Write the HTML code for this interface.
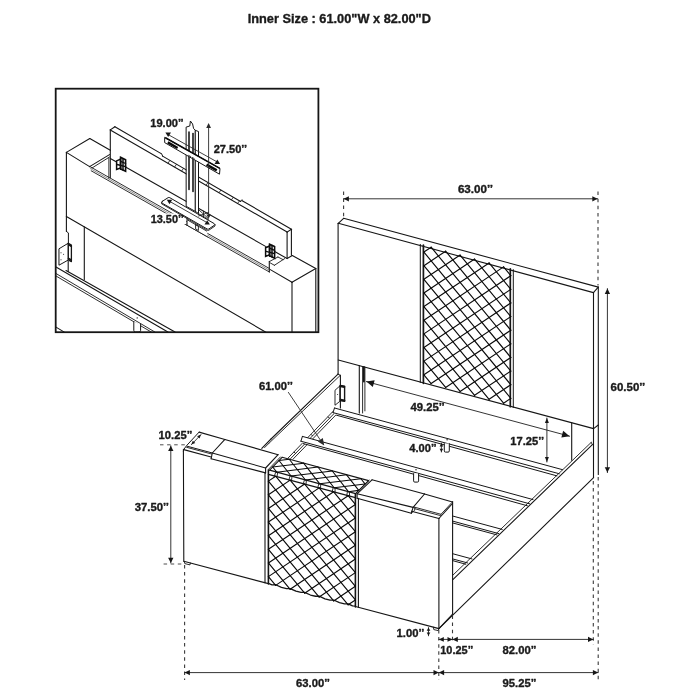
<!DOCTYPE html>
<html><head><meta charset="utf-8"><title>Bed dimensions</title>
<style>
html,body{margin:0;padding:0;background:#fff;}
body{width:700px;height:700px;overflow:hidden;}
svg{display:block;transform:translateZ(0);will-change:transform;}
svg text{font-family:"Liberation Sans",Arial,Helvetica,sans-serif;font-weight:bold;fill:#1a1a1a;stroke:#1a1a1a;stroke-width:0.35px;stroke-linejoin:round;}
</style></head><body>
<svg width="700" height="700" viewBox="0 0 700 700" stroke-linecap="round">
<defs><clipPath id="insetclip"><rect x="55.7" y="88.7" width="262.7" height="243.5"/></clipPath></defs>
<rect width="700" height="700" fill="#fff"/>
<text x="247.70" y="23.40" font-size="13" text-anchor="start" textLength="183.2" lengthAdjust="spacingAndGlyphs">Inner Size : 61.00&quot;W x 82.00&quot;D</text>
<line x1="343.60" y1="218.30" x2="598.30" y2="287.10" stroke="#161616" stroke-width="1.1" />
<line x1="338.30" y1="223.30" x2="593.40" y2="292.60" stroke="#161616" stroke-width="1.1" />
<line x1="338.30" y1="223.30" x2="343.60" y2="218.30" stroke="#161616" stroke-width="1.1" />
<line x1="593.40" y1="292.60" x2="598.30" y2="287.10" stroke="#161616" stroke-width="1.1" />
<line x1="338.10" y1="223.30" x2="338.10" y2="374.20" stroke="#161616" stroke-width="1.1" />
<line x1="340.40" y1="375.20" x2="340.40" y2="408.00" stroke="#161616" stroke-width="1.1" />
<line x1="593.50" y1="292.60" x2="593.50" y2="477.40" stroke="#161616" stroke-width="1.1" />
<line x1="598.30" y1="287.10" x2="598.30" y2="474.40" stroke="#161616" stroke-width="1.1" />
<line x1="338.30" y1="360.00" x2="593.60" y2="428.60" stroke="#161616" stroke-width="1.1" />
<line x1="593.60" y1="428.60" x2="598.30" y2="425.00" stroke="#161616" stroke-width="1.1" />
<line x1="420.30" y1="244.38" x2="420.30" y2="382.53" stroke="#161616" stroke-width="1.0" />
<line x1="423.40" y1="245.22" x2="423.40" y2="383.37" stroke="#161616" stroke-width="1.7" />
<line x1="510.30" y1="268.83" x2="510.30" y2="406.72" stroke="#161616" stroke-width="1.7" />
<line x1="513.30" y1="269.64" x2="513.30" y2="407.52" stroke="#161616" stroke-width="1.0" />
<line x1="423.90" y1="374.76" x2="431.14" y2="383.54" stroke="#0a0a0a" stroke-width="1.15" />
<line x1="423.90" y1="361.12" x2="445.62" y2="387.47" stroke="#0a0a0a" stroke-width="1.15" />
<line x1="423.90" y1="347.49" x2="460.11" y2="391.41" stroke="#0a0a0a" stroke-width="1.15" />
<line x1="423.90" y1="333.86" x2="474.59" y2="395.34" stroke="#0a0a0a" stroke-width="1.15" />
<line x1="423.90" y1="320.23" x2="489.07" y2="399.28" stroke="#0a0a0a" stroke-width="1.15" />
<line x1="423.90" y1="306.60" x2="503.56" y2="403.21" stroke="#0a0a0a" stroke-width="1.15" />
<line x1="423.90" y1="292.97" x2="510.80" y2="398.36" stroke="#0a0a0a" stroke-width="1.15" />
<line x1="423.90" y1="279.33" x2="510.80" y2="384.73" stroke="#0a0a0a" stroke-width="1.15" />
<line x1="423.90" y1="265.70" x2="510.80" y2="371.10" stroke="#0a0a0a" stroke-width="1.15" />
<line x1="423.90" y1="252.07" x2="510.80" y2="357.47" stroke="#0a0a0a" stroke-width="1.15" />
<line x1="431.14" y1="247.22" x2="510.80" y2="343.84" stroke="#0a0a0a" stroke-width="1.15" />
<line x1="445.62" y1="251.16" x2="510.80" y2="330.20" stroke="#0a0a0a" stroke-width="1.15" />
<line x1="460.11" y1="255.09" x2="510.80" y2="316.57" stroke="#0a0a0a" stroke-width="1.15" />
<line x1="474.59" y1="259.02" x2="510.80" y2="302.94" stroke="#0a0a0a" stroke-width="1.15" />
<line x1="489.07" y1="262.96" x2="510.80" y2="289.31" stroke="#0a0a0a" stroke-width="1.15" />
<line x1="503.56" y1="266.89" x2="510.80" y2="275.68" stroke="#0a0a0a" stroke-width="1.15" />
<line x1="423.90" y1="252.07" x2="431.14" y2="247.22" stroke="#0a0a0a" stroke-width="1.15" />
<line x1="423.90" y1="265.70" x2="445.62" y2="251.16" stroke="#0a0a0a" stroke-width="1.15" />
<line x1="423.90" y1="279.33" x2="460.11" y2="255.09" stroke="#0a0a0a" stroke-width="1.15" />
<line x1="423.90" y1="292.97" x2="474.59" y2="259.02" stroke="#0a0a0a" stroke-width="1.15" />
<line x1="423.90" y1="306.60" x2="489.07" y2="262.96" stroke="#0a0a0a" stroke-width="1.15" />
<line x1="423.90" y1="320.23" x2="503.56" y2="266.89" stroke="#0a0a0a" stroke-width="1.15" />
<line x1="423.90" y1="333.86" x2="510.80" y2="275.68" stroke="#0a0a0a" stroke-width="1.15" />
<line x1="423.90" y1="347.49" x2="510.80" y2="289.31" stroke="#0a0a0a" stroke-width="1.15" />
<line x1="423.90" y1="361.12" x2="510.80" y2="302.94" stroke="#0a0a0a" stroke-width="1.15" />
<line x1="423.90" y1="374.76" x2="510.80" y2="316.57" stroke="#0a0a0a" stroke-width="1.15" />
<line x1="431.14" y1="383.54" x2="510.80" y2="330.20" stroke="#0a0a0a" stroke-width="1.15" />
<line x1="445.62" y1="387.47" x2="510.80" y2="343.84" stroke="#0a0a0a" stroke-width="1.15" />
<line x1="460.11" y1="391.41" x2="510.80" y2="357.47" stroke="#0a0a0a" stroke-width="1.15" />
<line x1="474.59" y1="395.34" x2="510.80" y2="371.10" stroke="#0a0a0a" stroke-width="1.15" />
<line x1="489.07" y1="399.28" x2="510.80" y2="384.73" stroke="#0a0a0a" stroke-width="1.15" />
<line x1="503.56" y1="403.21" x2="510.80" y2="398.36" stroke="#0a0a0a" stroke-width="1.15" />
<line x1="359.30" y1="365.64" x2="359.30" y2="413.10" stroke="#161616" stroke-width="1.1" />
<line x1="362.60" y1="366.53" x2="362.60" y2="413.00" stroke="#161616" stroke-width="0.9" />
<line x1="364.90" y1="367.15" x2="364.90" y2="410.90" stroke="#161616" stroke-width="0.9" />
<line x1="363.90" y1="366.88" x2="363.90" y2="381.50" stroke="#161616" stroke-width="1.8" />
<line x1="571.70" y1="422.72" x2="571.70" y2="460.20" stroke="#161616" stroke-width="1.1" />
<line x1="333.00" y1="411.40" x2="288.20" y2="457.90" stroke="#161616" stroke-width="0.9" />
<line x1="335.20" y1="412.40" x2="290.60" y2="458.60" stroke="#161616" stroke-width="0.9" />
<line x1="337.40" y1="413.40" x2="293.00" y2="459.20" stroke="#161616" stroke-width="0.9" />
<line x1="328.24" y1="416.96" x2="329.34" y2="418.06" stroke="#161616" stroke-width="1.0" />
<line x1="311.25" y1="434.55" x2="312.35" y2="435.65" stroke="#161616" stroke-width="1.0" />
<line x1="294.26" y1="452.14" x2="295.36" y2="453.24" stroke="#161616" stroke-width="1.0" />
<polygon points="334.50,408.00 562.50,469.67 556.90,475.87 336.50,415.20 333.00,412.60" fill="#fff" stroke="none" stroke-width="0" stroke-linejoin="round" />
<line x1="334.50" y1="408.00" x2="562.50" y2="469.67" stroke="#161616" stroke-width="1.0" />
<line x1="333.00" y1="412.60" x2="559.30" y2="473.77" stroke="#161616" stroke-width="1.0" />
<line x1="336.50" y1="415.20" x2="556.90" y2="475.87" stroke="#161616" stroke-width="1.0" />
<line x1="334.50" y1="408.00" x2="333.00" y2="412.60" stroke="#161616" stroke-width="1.0" />
<polygon points="302.40,436.40 533.00,499.58 527.40,505.78 303.40,443.60 300.90,441.20" fill="#fff" stroke="none" stroke-width="0" stroke-linejoin="round" />
<line x1="302.40" y1="436.40" x2="533.00" y2="499.58" stroke="#161616" stroke-width="1.0" />
<line x1="300.90" y1="441.20" x2="529.60" y2="503.78" stroke="#161616" stroke-width="1.0" />
<line x1="303.40" y1="443.60" x2="527.40" y2="505.78" stroke="#161616" stroke-width="1.0" />
<line x1="302.40" y1="436.40" x2="300.90" y2="441.20" stroke="#161616" stroke-width="1.0" />
<line x1="452.60" y1="516.00" x2="502.20" y2="529.42" stroke="#161616" stroke-width="1.0" />
<line x1="452.60" y1="521.10" x2="498.80" y2="533.62" stroke="#161616" stroke-width="1.0" />
<line x1="452.60" y1="522.90" x2="497.00" y2="534.92" stroke="#161616" stroke-width="1.0" />
<line x1="452.60" y1="553.70" x2="472.00" y2="558.95" stroke="#161616" stroke-width="1.0" />
<line x1="452.60" y1="558.90" x2="467.60" y2="562.95" stroke="#161616" stroke-width="1.0" />
<line x1="452.60" y1="560.60" x2="465.80" y2="564.25" stroke="#161616" stroke-width="1.0" />
<path d="M444.30,443.60 v7.30 q0,1.2 1.2,1.2 h2.60 q1.2,0 1.2,-1.2 v-7.30" fill="#fff" stroke="#161616" stroke-width="1"/>
<path d="M413.60,473.60 v7.30 q0,1.2 1.2,1.2 h2.60 q1.2,0 1.2,-1.2 v-7.30" fill="#fff" stroke="#161616" stroke-width="1"/>
<circle cx="447.1" cy="439.7" r="0.7" fill="#161616"/>
<circle cx="416.0" cy="469.7" r="0.7" fill="#161616"/>
<line x1="592.40" y1="444.60" x2="452.60" y2="579.80" stroke="#161616" stroke-width="1.1" />
<line x1="591.20" y1="442.40" x2="452.60" y2="575.40" stroke="#161616" stroke-width="0.9" />
<line x1="591.20" y1="442.40" x2="592.40" y2="444.60" stroke="#161616" stroke-width="0.9" />
<line x1="593.60" y1="477.60" x2="438.90" y2="628.60" stroke="#161616" stroke-width="1.1" />
<line x1="338.00" y1="374.20" x2="271.00" y2="439.00" stroke="#161616" stroke-width="1.1" />
<line x1="339.80" y1="375.80" x2="269.00" y2="443.20" stroke="#161616" stroke-width="0.9" />
<line x1="338.00" y1="374.20" x2="340.40" y2="375.20" stroke="#161616" stroke-width="0.9" />
<polygon points="335.30,390.00 340.00,385.80 340.00,401.20 335.30,405.00" fill="#fff" stroke="#161616" stroke-width="0.9" stroke-linejoin="round" />
<polygon points="340.20,385.40 344.60,386.20 344.60,401.40 340.20,400.60" fill="#fff" stroke="#161616" stroke-width="1.4" stroke-linejoin="round" />
<line x1="340.60" y1="386.20" x2="344.40" y2="386.90" stroke="#161616" stroke-width="2.0" />
<line x1="340.60" y1="399.80" x2="344.40" y2="400.60" stroke="#161616" stroke-width="2.0" />
<circle cx="337.6" cy="394.6" r="0.5" fill="#161616"/>
<line x1="183.40" y1="449.40" x2="183.80" y2="561.30" stroke="#161616" stroke-width="1.1" />
<line x1="183.80" y1="561.30" x2="268.40" y2="583.62" stroke="#161616" stroke-width="1.1" />
<line x1="355.40" y1="606.57" x2="438.90" y2="628.60" stroke="#161616" stroke-width="1.1" />
<polyline points="268.40,583.32 272.02,584.78 275.65,584.73 281.45,587.36 286.52,588.60 290.15,588.56 295.95,591.19 301.02,592.43 304.65,592.38 310.45,595.01 315.52,596.25 319.15,596.21 324.95,598.84 330.02,600.08 333.65,600.03 339.45,602.66 344.52,603.90 348.15,603.86 352.50,605.91 355.40,606.17" fill="none" stroke="#161616" stroke-width="1.3" stroke-linejoin="round" />
<line x1="438.90" y1="518.30" x2="438.90" y2="628.60" stroke="#161616" stroke-width="1.1" />
<line x1="452.60" y1="501.60" x2="452.60" y2="614.20" stroke="#161616" stroke-width="1.1" />
<line x1="438.90" y1="628.60" x2="452.60" y2="614.20" stroke="#161616" stroke-width="1.1" />
<polyline points="184.40,561.60 184.80,563.60 190.00,564.90 190.40,563.00" fill="none" stroke="#161616" stroke-width="0.9" stroke-linejoin="round" />
<polyline points="433.40,627.20 433.80,629.60 438.20,630.60 438.90,628.60" fill="none" stroke="#161616" stroke-width="0.9" stroke-linejoin="round" />
<polyline points="183.40,451.00 183.80,449.40 186.60,445.60 199.10,432.10" fill="none" stroke="#161616" stroke-width="1.0" stroke-linejoin="round" />
<line x1="199.10" y1="432.10" x2="224.90" y2="439.48" stroke="#161616" stroke-width="1.1" />
<line x1="183.80" y1="449.60" x2="211.10" y2="457.00" stroke="#161616" stroke-width="1.1" />
<line x1="187.10" y1="446.20" x2="212.00" y2="452.90" stroke="#161616" stroke-width="1.0" />
<line x1="186.60" y1="447.30" x2="211.60" y2="454.00" stroke="#161616" stroke-width="0.9" />
<polyline points="224.90,439.48 212.30,453.00 211.10,458.80" fill="none" stroke="#161616" stroke-width="1.1" stroke-linejoin="round" />
<line x1="224.90" y1="439.48" x2="278.10" y2="454.70" stroke="#161616" stroke-width="1.1" />
<line x1="212.30" y1="453.00" x2="265.60" y2="468.00" stroke="#161616" stroke-width="1.1" />
<line x1="211.10" y1="458.80" x2="265.60" y2="472.90" stroke="#161616" stroke-width="1.1" />
<polyline points="278.10,454.70 265.60,468.00 265.60,472.90" fill="none" stroke="#161616" stroke-width="1.1" stroke-linejoin="round" />
<line x1="280.40" y1="456.96" x2="268.40" y2="469.40" stroke="#161616" stroke-width="0.9" />
<line x1="282.10" y1="457.30" x2="368.60" y2="480.60" stroke="#161616" stroke-width="1.1" />
<line x1="269.60" y1="470.20" x2="355.60" y2="493.60" stroke="#161616" stroke-width="1.2" />
<line x1="282.10" y1="457.30" x2="269.60" y2="470.20" stroke="#161616" stroke-width="1.1" />
<line x1="368.60" y1="480.60" x2="355.60" y2="493.60" stroke="#161616" stroke-width="1.1" />
<line x1="268.40" y1="474.30" x2="355.40" y2="497.60" stroke="#161616" stroke-width="1.2" />
<line x1="278.98" y1="460.52" x2="289.27" y2="459.25" stroke="#0a0a0a" stroke-width="1.05" />
<line x1="272.73" y1="466.98" x2="303.60" y2="463.15" stroke="#0a0a0a" stroke-width="1.05" />
<line x1="276.77" y1="472.15" x2="317.93" y2="467.05" stroke="#0a0a0a" stroke-width="1.05" />
<line x1="291.10" y1="476.05" x2="332.27" y2="470.95" stroke="#0a0a0a" stroke-width="1.05" />
<line x1="305.43" y1="479.95" x2="346.60" y2="474.85" stroke="#0a0a0a" stroke-width="1.05" />
<line x1="319.77" y1="483.85" x2="360.93" y2="478.75" stroke="#0a0a0a" stroke-width="1.05" />
<line x1="334.10" y1="487.75" x2="364.98" y2="483.93" stroke="#0a0a0a" stroke-width="1.05" />
<line x1="348.43" y1="491.65" x2="358.73" y2="490.38" stroke="#0a0a0a" stroke-width="1.05" />
<line x1="272.73" y1="466.98" x2="276.77" y2="472.15" stroke="#0a0a0a" stroke-width="1.05" />
<line x1="278.98" y1="460.52" x2="291.10" y2="476.05" stroke="#0a0a0a" stroke-width="1.05" />
<line x1="289.27" y1="459.25" x2="305.43" y2="479.95" stroke="#0a0a0a" stroke-width="1.05" />
<line x1="303.60" y1="463.15" x2="319.77" y2="483.85" stroke="#0a0a0a" stroke-width="1.05" />
<line x1="317.93" y1="467.05" x2="334.10" y2="487.75" stroke="#0a0a0a" stroke-width="1.05" />
<line x1="332.27" y1="470.95" x2="348.43" y2="491.65" stroke="#0a0a0a" stroke-width="1.05" />
<line x1="346.60" y1="474.85" x2="358.73" y2="490.38" stroke="#0a0a0a" stroke-width="1.05" />
<line x1="360.93" y1="478.75" x2="364.98" y2="483.93" stroke="#0a0a0a" stroke-width="1.05" />
<line x1="275.77" y1="472.15" x2="274.25" y2="476.24" stroke="#161616" stroke-width="0.9" />
<line x1="277.77" y1="472.15" x2="277.05" y2="476.24" stroke="#161616" stroke-width="0.9" />
<line x1="290.10" y1="476.05" x2="288.75" y2="480.12" stroke="#161616" stroke-width="0.9" />
<line x1="292.10" y1="476.05" x2="291.55" y2="480.12" stroke="#161616" stroke-width="0.9" />
<line x1="304.43" y1="479.95" x2="303.25" y2="484.01" stroke="#161616" stroke-width="0.9" />
<line x1="306.43" y1="479.95" x2="306.05" y2="484.01" stroke="#161616" stroke-width="0.9" />
<line x1="318.77" y1="483.85" x2="317.75" y2="487.89" stroke="#161616" stroke-width="0.9" />
<line x1="320.77" y1="483.85" x2="320.55" y2="487.89" stroke="#161616" stroke-width="0.9" />
<line x1="333.10" y1="487.75" x2="332.25" y2="491.78" stroke="#161616" stroke-width="0.9" />
<line x1="335.10" y1="487.75" x2="335.05" y2="491.78" stroke="#161616" stroke-width="0.9" />
<line x1="347.43" y1="491.65" x2="346.75" y2="495.66" stroke="#161616" stroke-width="0.9" />
<line x1="349.43" y1="491.65" x2="349.55" y2="495.66" stroke="#161616" stroke-width="0.9" />
<line x1="372.00" y1="479.80" x2="424.50" y2="494.00" stroke="#161616" stroke-width="1.1" />
<polyline points="372.00,479.80 357.10,493.80 357.10,498.20" fill="none" stroke="#161616" stroke-width="1.1" stroke-linejoin="round" />
<line x1="369.20" y1="480.20" x2="355.60" y2="493.60" stroke="#161616" stroke-width="0.9" />
<line x1="357.10" y1="493.80" x2="413.10" y2="507.40" stroke="#161616" stroke-width="1.1" />
<line x1="357.10" y1="498.20" x2="411.30" y2="513.20" stroke="#161616" stroke-width="1.1" />
<polyline points="424.50,494.00 413.10,507.40 411.30,513.20" fill="none" stroke="#161616" stroke-width="1.1" stroke-linejoin="round" />
<polyline points="413.10,507.40 415.00,507.20 414.60,510.40 411.30,513.20" fill="none" stroke="#161616" stroke-width="0.9" stroke-linejoin="round" />
<line x1="424.50" y1="494.00" x2="452.50" y2="502.00" stroke="#161616" stroke-width="1.1" />
<line x1="415.00" y1="507.30" x2="441.00" y2="514.30" stroke="#161616" stroke-width="0.9" />
<line x1="414.80" y1="508.70" x2="440.50" y2="515.60" stroke="#161616" stroke-width="0.9" />
<line x1="411.50" y1="511.20" x2="438.90" y2="518.50" stroke="#161616" stroke-width="1.1" />
<line x1="438.90" y1="518.50" x2="452.50" y2="503.50" stroke="#161616" stroke-width="1.1" />
<line x1="441.00" y1="514.30" x2="452.00" y2="502.40" stroke="#161616" stroke-width="0.9" />
<line x1="265.00" y1="472.90" x2="265.00" y2="582.72" stroke="#161616" stroke-width="1.1" />
<line x1="268.40" y1="470.00" x2="268.40" y2="584.02" stroke="#161616" stroke-width="1.6" />
<line x1="355.40" y1="494.00" x2="355.40" y2="606.97" stroke="#161616" stroke-width="1.6" />
<line x1="358.40" y1="498.40" x2="358.40" y2="607.36" stroke="#161616" stroke-width="1.1" />
<line x1="268.40" y1="576.62" x2="275.65" y2="585.39" stroke="#0a0a0a" stroke-width="1.15" />
<line x1="268.40" y1="562.98" x2="290.15" y2="589.27" stroke="#0a0a0a" stroke-width="1.15" />
<line x1="268.40" y1="549.34" x2="304.65" y2="593.15" stroke="#0a0a0a" stroke-width="1.15" />
<line x1="268.40" y1="535.69" x2="319.15" y2="597.04" stroke="#0a0a0a" stroke-width="1.15" />
<line x1="268.40" y1="522.05" x2="333.65" y2="600.92" stroke="#0a0a0a" stroke-width="1.15" />
<line x1="268.40" y1="508.41" x2="348.15" y2="604.80" stroke="#0a0a0a" stroke-width="1.15" />
<line x1="268.40" y1="494.76" x2="355.40" y2="599.92" stroke="#0a0a0a" stroke-width="1.15" />
<line x1="268.40" y1="481.12" x2="355.40" y2="586.28" stroke="#0a0a0a" stroke-width="1.15" />
<line x1="275.65" y1="476.24" x2="355.40" y2="572.64" stroke="#0a0a0a" stroke-width="1.15" />
<line x1="290.15" y1="480.12" x2="355.40" y2="558.99" stroke="#0a0a0a" stroke-width="1.15" />
<line x1="304.65" y1="484.01" x2="355.40" y2="545.35" stroke="#0a0a0a" stroke-width="1.15" />
<line x1="319.15" y1="487.89" x2="355.40" y2="531.71" stroke="#0a0a0a" stroke-width="1.15" />
<line x1="333.65" y1="491.78" x2="355.40" y2="518.06" stroke="#0a0a0a" stroke-width="1.15" />
<line x1="348.15" y1="495.66" x2="355.40" y2="504.42" stroke="#0a0a0a" stroke-width="1.15" />
<line x1="268.40" y1="481.12" x2="275.65" y2="476.24" stroke="#0a0a0a" stroke-width="1.15" />
<line x1="268.40" y1="494.76" x2="290.15" y2="480.12" stroke="#0a0a0a" stroke-width="1.15" />
<line x1="268.40" y1="508.41" x2="304.65" y2="484.01" stroke="#0a0a0a" stroke-width="1.15" />
<line x1="268.40" y1="522.05" x2="319.15" y2="487.89" stroke="#0a0a0a" stroke-width="1.15" />
<line x1="268.40" y1="535.69" x2="333.65" y2="491.78" stroke="#0a0a0a" stroke-width="1.15" />
<line x1="268.40" y1="549.34" x2="348.15" y2="495.66" stroke="#0a0a0a" stroke-width="1.15" />
<line x1="268.40" y1="562.98" x2="355.40" y2="504.42" stroke="#0a0a0a" stroke-width="1.15" />
<line x1="268.40" y1="576.62" x2="355.40" y2="518.06" stroke="#0a0a0a" stroke-width="1.15" />
<line x1="275.65" y1="585.39" x2="355.40" y2="531.71" stroke="#0a0a0a" stroke-width="1.15" />
<line x1="290.15" y1="589.27" x2="355.40" y2="545.35" stroke="#0a0a0a" stroke-width="1.15" />
<line x1="304.65" y1="593.15" x2="355.40" y2="558.99" stroke="#0a0a0a" stroke-width="1.15" />
<line x1="319.15" y1="597.04" x2="355.40" y2="572.64" stroke="#0a0a0a" stroke-width="1.15" />
<line x1="333.65" y1="600.92" x2="355.40" y2="586.28" stroke="#0a0a0a" stroke-width="1.15" />
<line x1="348.15" y1="604.80" x2="355.40" y2="599.92" stroke="#0a0a0a" stroke-width="1.15" />
<line x1="271.00" y1="439.00" x2="261.80" y2="448.40" stroke="#161616" stroke-width="1.1" />
<line x1="269.00" y1="443.20" x2="264.60" y2="447.60" stroke="#161616" stroke-width="0.9" />
<line x1="343.60" y1="198.80" x2="597.60" y2="198.80" stroke="#2a2a2a" stroke-width="0.95" />
<polygon points="597.60,198.80 592.30,201.45 592.30,196.15" fill="#161616" stroke="none"/>
<polygon points="343.60,198.80 348.90,196.15 348.90,201.45" fill="#161616" stroke="none"/>
<line x1="343.60" y1="191.40" x2="343.60" y2="216.60" stroke="#3a3a3a" stroke-width="1.1" stroke-dasharray="3.5 3.6" stroke-linecap="butt"/>
<line x1="598.00" y1="191.60" x2="598.00" y2="285.60" stroke="#3a3a3a" stroke-width="1.1" stroke-dasharray="3.5 3.6" stroke-linecap="butt"/>
<text x="457.90" y="192.90" font-size="11" text-anchor="start" textLength="35.0" lengthAdjust="spacingAndGlyphs">63.00’’</text>
<line x1="607.40" y1="288.60" x2="607.40" y2="472.60" stroke="#2a2a2a" stroke-width="0.95" />
<polygon points="607.40,472.60 604.75,467.30 610.05,467.30" fill="#161616" stroke="none"/>
<polygon points="607.40,288.60 610.05,293.90 604.75,293.90" fill="#161616" stroke="none"/>
<text x="610.60" y="391.20" font-size="11" text-anchor="start" textLength="34.6" lengthAdjust="spacingAndGlyphs">60.50’’</text>
<line x1="366.40" y1="381.60" x2="569.60" y2="436.20" stroke="#2a2a2a" stroke-width="0.95" />
<polygon points="569.60,436.20 561.35,437.61 563.17,430.85" fill="#161616" stroke="none"/>
<polygon points="366.40,381.60 374.65,380.19 372.83,386.95" fill="#161616" stroke="none"/>
<text x="410.40" y="410.90" font-size="11" text-anchor="start" textLength="34.2" lengthAdjust="spacingAndGlyphs">49.25’’</text>
<line x1="546.90" y1="418.00" x2="546.90" y2="462.00" stroke="#2a2a2a" stroke-width="0.95" />
<polygon points="546.90,462.00 544.90,457.00 548.90,457.00" fill="#161616" stroke="none"/>
<polygon points="546.90,418.00 548.90,423.00 544.90,423.00" fill="#161616" stroke="none"/>
<text x="510.30" y="445.40" font-size="11" text-anchor="start" textLength="33.8" lengthAdjust="spacingAndGlyphs">17.25’’</text>
<line x1="441.40" y1="443.20" x2="441.40" y2="452.00" stroke="#2a2a2a" stroke-width="0.9" />
<polygon points="441.40,452.00 439.60,448.80 443.20,448.80" fill="#161616" stroke="none"/>
<polygon points="441.40,443.20 443.20,446.40 439.60,446.40" fill="#161616" stroke="none"/>
<text x="409.30" y="451.70" font-size="11" text-anchor="start" textLength="27.4" lengthAdjust="spacingAndGlyphs">4.00’’</text>
<line x1="288.40" y1="392.40" x2="322.60" y2="443.40" stroke="#2a2a2a" stroke-width="0.9" />
<polygon points="324.20,445.60 317.81,441.46 322.79,438.12" fill="#2a2a2a" stroke="none"/>
<text x="258.90" y="390.10" font-size="11" text-anchor="start" textLength="33.9" lengthAdjust="spacingAndGlyphs">61.00’’</text>
<line x1="191.40" y1="444.60" x2="201.00" y2="434.60" stroke="#2a2a2a" stroke-width="0.9" />
<polygon points="201.00,434.60 199.59,438.52 197.14,436.16" fill="#161616" stroke="none"/>
<polygon points="191.40,444.60 192.81,440.68 195.26,443.04" fill="#161616" stroke="none"/>
<line x1="160.00" y1="444.80" x2="186.80" y2="444.80" stroke="#3a3a3a" stroke-width="0.9" stroke-dasharray="3.5 3.6" stroke-linecap="butt"/>
<text x="158.60" y="439.40" font-size="11" text-anchor="start" textLength="33.9" lengthAdjust="spacingAndGlyphs">10.25’’</text>
<line x1="170.80" y1="445.80" x2="170.80" y2="563.00" stroke="#2a2a2a" stroke-width="0.95" />
<polygon points="170.80,563.00 168.15,557.70 173.45,557.70" fill="#161616" stroke="none"/>
<polygon points="170.80,445.80 173.45,451.10 168.15,451.10" fill="#161616" stroke="none"/>
<line x1="163.60" y1="564.00" x2="183.80" y2="564.00" stroke="#3a3a3a" stroke-width="0.9" stroke-dasharray="3.5 3.6" stroke-linecap="butt"/>
<text x="134.70" y="510.90" font-size="11" text-anchor="start" textLength="34.2" lengthAdjust="spacingAndGlyphs">37.50’’</text>
<line x1="184.60" y1="565.00" x2="184.60" y2="680.00" stroke="#3a3a3a" stroke-width="1.1" stroke-dasharray="3.5 3.6" stroke-linecap="butt"/>
<line x1="438.80" y1="630.00" x2="438.80" y2="680.00" stroke="#3a3a3a" stroke-width="1.1" stroke-dasharray="3.5 3.6" stroke-linecap="butt"/>
<line x1="452.50" y1="615.50" x2="452.50" y2="644.00" stroke="#3a3a3a" stroke-width="1.1" stroke-dasharray="3.5 3.6" stroke-linecap="butt"/>
<line x1="593.30" y1="481.00" x2="593.30" y2="644.50" stroke="#3a3a3a" stroke-width="1.1" stroke-dasharray="3.5 3.6" stroke-linecap="butt"/>
<line x1="598.20" y1="477.00" x2="598.20" y2="681.50" stroke="#3a3a3a" stroke-width="1.1" stroke-dasharray="3.5 3.6" stroke-linecap="butt"/>
<line x1="184.60" y1="672.60" x2="438.80" y2="672.60" stroke="#2a2a2a" stroke-width="0.95" />
<polygon points="438.80,672.60 433.50,675.25 433.50,669.95" fill="#161616" stroke="none"/>
<polygon points="184.60,672.60 189.90,669.95 189.90,675.25" fill="#161616" stroke="none"/>
<line x1="438.80" y1="672.60" x2="598.20" y2="672.60" stroke="#2a2a2a" stroke-width="0.95" />
<polygon points="598.20,672.60 592.90,675.25 592.90,669.95" fill="#161616" stroke="none"/>
<polygon points="438.80,672.60 444.10,669.95 444.10,675.25" fill="#161616" stroke="none"/>
<line x1="438.80" y1="639.40" x2="452.50" y2="639.40" stroke="#2a2a2a" stroke-width="0.95" />
<polygon points="452.50,639.40 447.50,641.70 447.50,637.10" fill="#161616" stroke="none"/>
<polygon points="438.80,639.40 443.80,637.10 443.80,641.70" fill="#161616" stroke="none"/>
<line x1="452.50" y1="639.40" x2="593.30" y2="639.40" stroke="#2a2a2a" stroke-width="0.95" />
<polygon points="593.30,639.40 588.00,642.05 588.00,636.75" fill="#161616" stroke="none"/>
<polygon points="452.50,639.40 457.80,636.75 457.80,642.05" fill="#161616" stroke="none"/>
<text x="296.00" y="686.50" font-size="11" text-anchor="start" textLength="34.0" lengthAdjust="spacingAndGlyphs">63.00’’</text>
<text x="502.50" y="686.50" font-size="11" text-anchor="start" textLength="34.0" lengthAdjust="spacingAndGlyphs">95.25’’</text>
<text x="502.50" y="654.00" font-size="11" text-anchor="start" textLength="34.0" lengthAdjust="spacingAndGlyphs">82.00’’</text>
<text x="440.30" y="654.00" font-size="11" text-anchor="start" textLength="33.0" lengthAdjust="spacingAndGlyphs">10.25’’</text>
<text x="396.60" y="637.00" font-size="11" text-anchor="start" textLength="27.7" lengthAdjust="spacingAndGlyphs">1.00’’</text>
<line x1="428.50" y1="627.60" x2="428.50" y2="635.80" stroke="#2a2a2a" stroke-width="0.9" />
<polygon points="428.50,635.80 426.70,632.60 430.30,632.60" fill="#161616" stroke="none"/>
<polygon points="428.50,627.60 430.30,630.80 426.70,630.80" fill="#161616" stroke="none"/>
<g clip-path="url(#insetclip)">
<line x1="66.40" y1="152.40" x2="89.80" y2="138.50" stroke="#161616" stroke-width="1.1" />
<line x1="89.80" y1="138.50" x2="110.30" y2="150.30" stroke="#161616" stroke-width="1.1" />
<line x1="66.40" y1="152.40" x2="89.60" y2="166.60" stroke="#161616" stroke-width="1.1" />
<line x1="89.60" y1="166.39" x2="269.30" y2="268.46" stroke="#161616" stroke-width="0.9" />
<line x1="90.40" y1="168.60" x2="269.30" y2="270.21" stroke="#444" stroke-width="0.6" />
<line x1="91.20" y1="170.80" x2="269.30" y2="271.96" stroke="#161616" stroke-width="0.9" />
<line x1="89.60" y1="166.60" x2="109.50" y2="154.60" stroke="#161616" stroke-width="1.1" />
<line x1="92.00" y1="168.00" x2="109.50" y2="157.00" stroke="#161616" stroke-width="0.9" />
<line x1="66.40" y1="152.40" x2="66.40" y2="231.40" stroke="#161616" stroke-width="1.1" />
<polyline points="66.40,231.40 68.40,232.90 68.40,243.40" fill="none" stroke="#161616" stroke-width="1.0" stroke-linejoin="round" />
<line x1="68.20" y1="261.40" x2="68.20" y2="271.60" stroke="#161616" stroke-width="1.1" />
<line x1="66.40" y1="216.40" x2="265.90" y2="332.20" stroke="#161616" stroke-width="1.1" />
<line x1="84.30" y1="226.80" x2="84.30" y2="279.60" stroke="#161616" stroke-width="1.1" />
<line x1="110.30" y1="129.90" x2="287.10" y2="232.10" stroke="#161616" stroke-width="1.1" />
<line x1="114.90" y1="126.70" x2="161.20" y2="153.61" stroke="#161616" stroke-width="1.1" />
<line x1="162.60" y1="156.13" x2="240.60" y2="201.47" stroke="#161616" stroke-width="1.1" />
<line x1="242.20" y1="200.70" x2="291.40" y2="229.30" stroke="#161616" stroke-width="1.1" />
<line x1="110.30" y1="129.90" x2="114.90" y2="126.70" stroke="#161616" stroke-width="1.1" />
<line x1="287.10" y1="232.10" x2="291.40" y2="229.30" stroke="#161616" stroke-width="1.1" />
<line x1="110.30" y1="129.90" x2="110.30" y2="177.60" stroke="#161616" stroke-width="1.1" />
<line x1="108.80" y1="158.00" x2="108.80" y2="178.40" stroke="#161616" stroke-width="0.8" />
<line x1="287.10" y1="232.10" x2="287.10" y2="258.20" stroke="#161616" stroke-width="1.1" />
<line x1="291.40" y1="229.30" x2="291.40" y2="255.20" stroke="#161616" stroke-width="1.1" />
<path d="M161.2,153.61 q1.6,0.6 1.4,2.5" fill="none" stroke="#161616" stroke-width="1"/>
<path d="M240.6,201.47 q0.2,-1.8 1.6,-1.6" fill="none" stroke="#161616" stroke-width="1"/>
<line x1="169.80" y1="160.61" x2="168.10" y2="163.01" stroke="#161616" stroke-width="0.8" />
<line x1="176.40" y1="164.45" x2="174.70" y2="166.82" stroke="#161616" stroke-width="0.8" />
<line x1="183.40" y1="168.52" x2="181.70" y2="170.87" stroke="#161616" stroke-width="0.8" />
<line x1="207.90" y1="182.76" x2="206.20" y2="185.03" stroke="#161616" stroke-width="0.8" />
<line x1="220.80" y1="190.26" x2="219.10" y2="192.49" stroke="#161616" stroke-width="0.8" />
<line x1="233.20" y1="197.47" x2="231.50" y2="199.65" stroke="#161616" stroke-width="0.8" />
<line x1="239.40" y1="201.07" x2="237.70" y2="203.24" stroke="#161616" stroke-width="0.8" />
<line x1="110.30" y1="158.40" x2="116.60" y2="161.97" stroke="#161616" stroke-width="1.1" />
<line x1="125.10" y1="166.79" x2="266.00" y2="246.64" stroke="#161616" stroke-width="1.1" />
<line x1="274.30" y1="251.34" x2="287.10" y2="258.59" stroke="#161616" stroke-width="1.1" />
<g transform="translate(116.6,157.3)"><path d="M0,3.6 L4.0,1.8 L4.0,10.6 L0,12.2 Z" fill="#fff" stroke="#0c0c0c" stroke-width="1.5"/><path d="M4.0,0 L9.0,2.4 L9.0,14.0 L4.0,11.6 Z" fill="#fff" stroke="#0c0c0c" stroke-width="1.6"/><path d="M4.0,0.4 L4.0,12 M6.4,1.4 L6.4,12.8" stroke="#0c0c0c" stroke-width="1.5"/><path d="M0.4,7.2 L9.0,9.4 M4,4.0 L9,6.2" stroke="#0c0c0c" stroke-width="1.3"/></g>
<g transform="translate(265.6,244.2)"><path d="M0,3.6 L4.0,1.8 L4.0,10.6 L0,12.2 Z" fill="#fff" stroke="#0c0c0c" stroke-width="1.5"/><path d="M4.0,0 L9.0,2.4 L9.0,14.0 L4.0,11.6 Z" fill="#fff" stroke="#0c0c0c" stroke-width="1.6"/><path d="M4.0,0.4 L4.0,12 M6.4,1.4 L6.4,12.8" stroke="#0c0c0c" stroke-width="1.5"/><path d="M0.4,7.2 L9.0,9.4 M4,4.0 L9,6.2" stroke="#0c0c0c" stroke-width="1.3"/></g>
<line x1="270.30" y1="269.60" x2="292.00" y2="282.30" stroke="#161616" stroke-width="1.1" />
<line x1="292.30" y1="255.60" x2="315.80" y2="268.50" stroke="#161616" stroke-width="1.1" />
<line x1="315.80" y1="268.50" x2="292.00" y2="282.30" stroke="#161616" stroke-width="1.1" />
<line x1="292.00" y1="282.30" x2="292.00" y2="333.00" stroke="#161616" stroke-width="1.1" />
<line x1="315.80" y1="268.50" x2="315.80" y2="333.00" stroke="#161616" stroke-width="1.1" />
<line x1="287.10" y1="258.40" x2="292.30" y2="255.60" stroke="#161616" stroke-width="1.1" />
<line x1="269.30" y1="261.40" x2="269.30" y2="271.96" stroke="#161616" stroke-width="1.1" />
<line x1="269.30" y1="261.60" x2="277.90" y2="257.00" stroke="#161616" stroke-width="0.9" />
<line x1="277.90" y1="257.00" x2="283.00" y2="259.60" stroke="#161616" stroke-width="0.9" />
<line x1="270.40" y1="263.00" x2="274.40" y2="265.30" stroke="#161616" stroke-width="0.9" />
<line x1="274.40" y1="265.30" x2="284.70" y2="258.60" stroke="#161616" stroke-width="0.9" />
<polygon points="59.30,248.60 68.30,243.20 68.30,260.00 59.30,265.00" fill="#fff" stroke="#161616" stroke-width="1.0" stroke-linejoin="round" />
<polygon points="68.30,243.20 71.40,245.00 71.40,261.60 68.30,260.00" fill="#fff" stroke="#161616" stroke-width="1.3" stroke-linejoin="round" />
<circle cx="63.6" cy="254.3" r="0.55" fill="#161616"/>
<circle cx="61.0" cy="252.8" r="0.55" fill="#161616"/>
<circle cx="61.0" cy="259.8" r="0.55" fill="#161616"/>
<line x1="68.60" y1="244.60" x2="71.20" y2="246.20" stroke="#161616" stroke-width="1.8" />
<line x1="68.60" y1="258.40" x2="71.20" y2="260.00" stroke="#161616" stroke-width="1.8" />
<line x1="66.00" y1="270.60" x2="175.00" y2="332.10" stroke="#161616" stroke-width="1.1" />
<line x1="56.00" y1="267.10" x2="167.90" y2="332.10" stroke="#161616" stroke-width="1.1" />
<line x1="56.00" y1="273.50" x2="155.00" y2="332.10" stroke="#161616" stroke-width="0.9" />
<line x1="56.00" y1="276.00" x2="151.40" y2="332.10" stroke="#161616" stroke-width="0.9" />
<line x1="56.00" y1="327.10" x2="64.30" y2="332.10" stroke="#161616" stroke-width="1.1" />
<path d="M133.8,321.6 v8.8 q0,1.6 1.6,1.6 h3.6 q1.6,0 1.6,-1.6 v-6" fill="#fff" stroke="#161616" stroke-width="1"/>
<circle cx="137.2" cy="317.9" r="0.7" fill="#161616"/>
<polygon points="187.00,216.00 187.00,225.22 207.40,236.80 207.40,229.50" fill="#fff" stroke="none" stroke-width="0" stroke-linejoin="round" />
<line x1="187.00" y1="216.50" x2="187.00" y2="225.22" stroke="#161616" stroke-width="1.1" />
<line x1="187.00" y1="225.22" x2="207.40" y2="236.80" stroke="#161616" stroke-width="0.9" />
<line x1="187.60" y1="220.00" x2="206.60" y2="231.00" stroke="#161616" stroke-width="0.9" />
<polygon points="195.60,225.00 195.60,228.90 198.40,230.50 198.40,226.60" fill="none" stroke="#161616" stroke-width="0.9" stroke-linejoin="round" />
<rect x="149.5" y="213.4" width="36.6" height="10.6" fill="#fff"/>
<path d="M162.2,201.4 L168.2,197.6 Q169.0,197.2 169.8,197.7 L214.2,223.6 Q215.2,224.4 214.4,225.2 L208.8,229.0 Q208.0,229.5 207.2,229.0 L162.2,203.2 Q161.0,202.2 162.2,201.4 Z" fill="#fff" stroke="#161616" stroke-width="1"/>
<polyline points="161.60,202.60 161.60,203.80 207.60,230.40 208.60,230.40 215.00,226.00 215.00,224.60" fill="none" stroke="#161616" stroke-width="0.9" stroke-linejoin="round" />
<line x1="198.50" y1="209.60" x2="208.50" y2="218.60" stroke="#161616" stroke-width="0.8" />
<line x1="198.50" y1="216.00" x2="208.50" y2="212.40" stroke="#161616" stroke-width="0.8" />
<line x1="203.50" y1="211.20" x2="203.50" y2="217.60" stroke="#161616" stroke-width="0.8" />
<line x1="198.50" y1="213.60" x2="208.50" y2="219.40" stroke="#161616" stroke-width="0.8" />
<polygon points="186.50,127.00 189.80,126.00 190.40,121.00 192.60,124.00 193.60,128.60 195.50,130.40 195.50,211.50 186.50,206.50" fill="#fff" stroke="#161616" stroke-width="1.0" stroke-linejoin="round" />
<polygon points="195.50,130.40 198.50,131.50 198.50,213.50 195.50,211.50" fill="#fff" stroke="#161616" stroke-width="1.0" stroke-linejoin="round" />
<line x1="189.00" y1="132.00" x2="189.00" y2="189.40" stroke="#0a0a0a" stroke-width="1.5" />
<line x1="193.00" y1="133.50" x2="193.00" y2="191.60" stroke="#0a0a0a" stroke-width="1.5" />
<polygon points="165.00,137.50 220.00,168.50 219.50,174.20 165.00,142.80" fill="#fff" stroke="#161616" stroke-width="1.0" stroke-linejoin="round" />
<line x1="165.80" y1="138.00" x2="219.40" y2="168.20" stroke="#0a0a0a" stroke-width="1.5" />
<line x1="167.80" y1="142.40" x2="177.60" y2="148.00" stroke="#0a0a0a" stroke-width="2.4" stroke-linecap="butt"/>
<line x1="206.60" y1="164.60" x2="216.80" y2="170.40" stroke="#0a0a0a" stroke-width="2.4" stroke-linecap="butt"/>
<line x1="188.60" y1="155.40" x2="190.60" y2="156.50" stroke="#161616" stroke-width="0.8" />
<line x1="192.20" y1="157.40" x2="194.20" y2="158.50" stroke="#161616" stroke-width="0.8" />
<line x1="168.20" y1="134.60" x2="217.60" y2="162.20" stroke="#2a2a2a" stroke-width="0.9" />
<polygon points="168.20,137.00 165.40,132.60 171.00,132.60" fill="#161616" stroke="none"/>
<polygon points="217.30,159.60 220.10,164.00 214.50,164.00" fill="#161616" stroke="none"/>
<line x1="208.60" y1="124.50" x2="208.60" y2="216.00" stroke="#2a2a2a" stroke-width="0.9" />
<polygon points="208.60,122.90 211.00,127.90 206.20,127.90" fill="#2a2a2a" stroke="none"/>
<polygon points="208.60,218.60 206.30,214.40 210.90,214.40" fill="#2a2a2a" stroke="none"/>
<line x1="170.00" y1="201.60" x2="207.00" y2="222.60" stroke="#2a2a2a" stroke-width="0.9" />
<polygon points="169.50,204.20 166.80,199.80 172.20,199.80" fill="#161616" stroke="none"/>
<polygon points="207.20,220.20 209.90,224.60 204.50,224.60" fill="#161616" stroke="none"/>
<text x="150.30" y="127.10" font-size="11" text-anchor="start" textLength="33.4" lengthAdjust="spacingAndGlyphs">19.00’’</text>
<text x="213.70" y="152.90" font-size="11" text-anchor="start" textLength="33.4" lengthAdjust="spacingAndGlyphs">27.50’’</text>
<text x="150.70" y="222.90" font-size="11" text-anchor="start" textLength="33.0" lengthAdjust="spacingAndGlyphs">13.50’’</text>
</g>
<rect x="55.7" y="88.7" width="262.7" height="243.5" fill="none" stroke="#161616" stroke-width="1.8"/>
</svg>
</body></html>
